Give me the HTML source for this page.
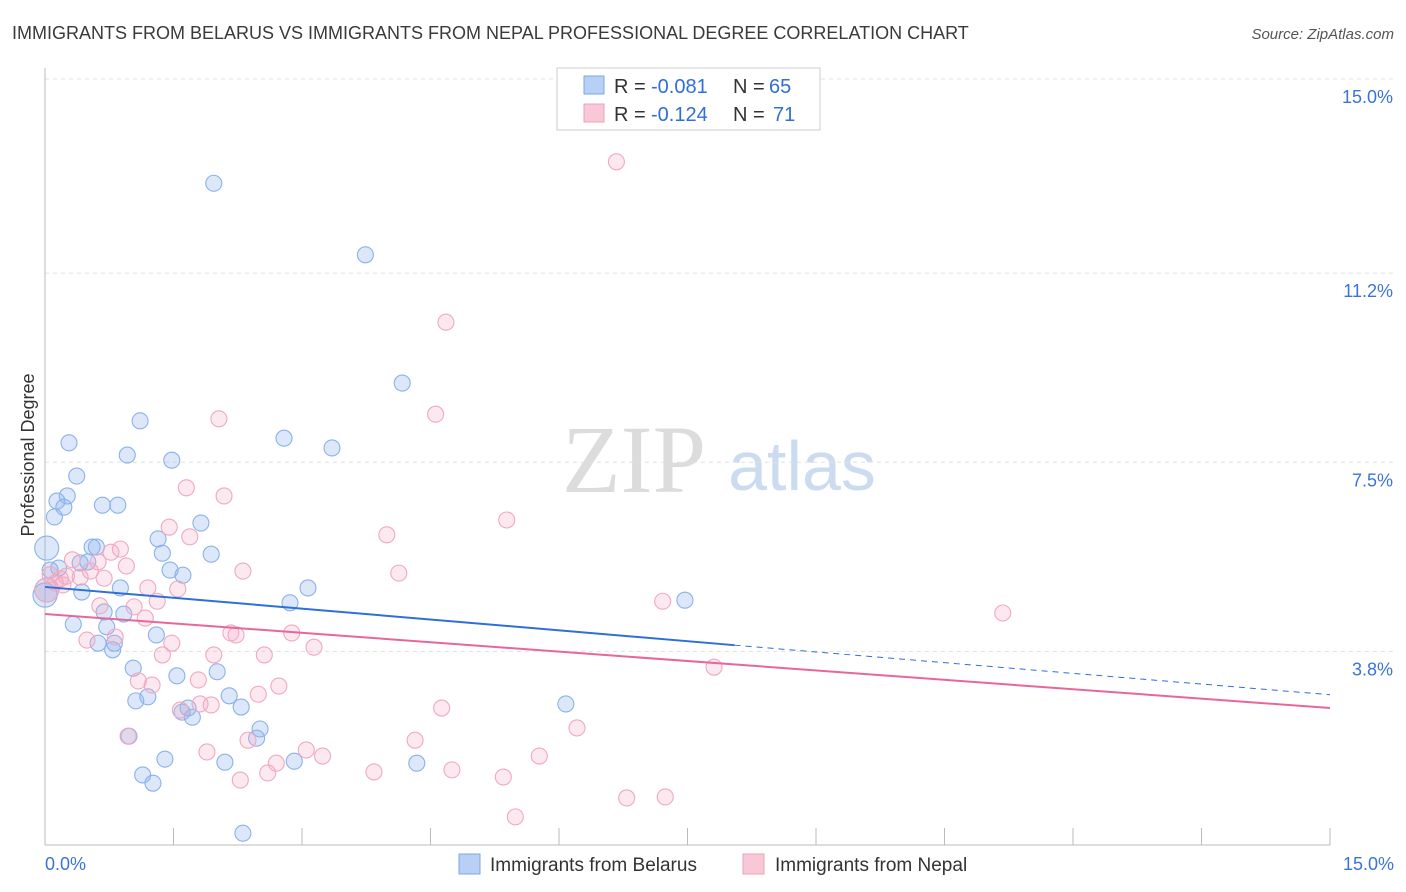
<!DOCTYPE html>
<html><head><meta charset="utf-8">
<style>
body{margin:0;background:#fff;font-family:"Liberation Sans",sans-serif;}
svg{display:block}
</style></head>
<body>
<svg id="chart" width="1406" height="892">
<text x="12" y="39" font-size="18" fill="#3a3a3a">IMMIGRANTS FROM BELARUS VS IMMIGRANTS FROM NEPAL PROFESSIONAL DEGREE CORRELATION CHART</text>
<text x="1394" y="39" font-size="15" fill="#555" font-style="italic" text-anchor="end">Source: ZipAtlas.com</text>
<text x="34" y="455" font-size="18" fill="#333" text-anchor="middle" transform="rotate(-90 34 455)">Professional Degree</text>
<g>
<text x="634" y="492" font-size="96" font-family="Liberation Serif,serif" fill="#dcdcdc" text-anchor="middle">ZIP</text>
<text x="802" y="490" font-size="70" fill="#ccdcf0" text-anchor="middle">atlas</text>
</g>
<g id="grid"></g>
<g id="axes"></g>
<g id="pts"></g>
<g id="trend"></g>
<g>
<rect x="557" y="68" width="263" height="62" fill="#fff" stroke="#ccc"/>
<rect x="584" y="76" width="20" height="18" fill="#b7d0f3" stroke="#7aa7e6"/>
<rect x="584" y="104" width="20" height="18" fill="#f8c8d7" stroke="#eea0b8"/>
<text x="614" y="93" font-size="20" fill="#333">R =</text>
<text x="651" y="93" font-size="20" fill="#2f6fd6">-0.081</text>
<text x="733" y="93" font-size="20" fill="#333">N =</text>
<text x="769" y="93" font-size="20" fill="#2f6fd6">65</text>
<text x="614" y="121" font-size="20" fill="#333">R =</text>
<text x="651" y="121" font-size="20" fill="#2f6fd6">-0.124</text>
<text x="733" y="121" font-size="20" fill="#333">N =</text>
<text x="773" y="121" font-size="20" fill="#2f6fd6">71</text>
</g>
<g>
<rect x="459" y="854" width="21" height="20" fill="#b7d0f3" stroke="#7aa7e6"/>
<text x="490" y="871" font-size="19" fill="#333">Immigrants from Belarus</text>
<rect x="743" y="854" width="21" height="20" fill="#f8c8d7" stroke="#eea0b8"/>
<text x="775" y="871" font-size="19" fill="#333">Immigrants from Nepal</text>
</g>
</svg>
<script>
const yTicks=[15.0,11.2,7.5,3.8];
const yTickLabels=["15.0%","11.2%","7.5%","3.8%"];
const xTickLabels=["0.0%","15.0%"];
const blueX=[1.97,3.74,4.17,1.11,0.28,2.79,3.35,0.96,1.48,0.37,0.14,0.26,0.22,0.67,0.85,0.11,1.82,1.32,0.55,0.6,0.02,1.37,1.94,0.41,1.46,1.61,0.16,0.5,0.88,0.43,3.07,2.86,7.47,0.92,0.69,0.33,0.72,1.30,0.62,0.81,0.79,1.03,2.01,1.54,1.20,1.06,2.15,1.67,1.60,1.72,2.29,6.08,2.51,0.98,2.47,1.40,2.10,2.91,4.34,1.14,1.26,2.31,0,0.06,0.02];
const blueY=[12.96,11.56,9.05,8.31,7.88,7.97,7.78,7.64,7.54,7.23,6.74,6.84,6.62,6.66,6.66,6.43,6.31,6.0,5.84,5.84,5.82,5.72,5.70,5.53,5.39,5.29,5.43,5.55,5.04,4.96,5.04,4.75,4.80,4.53,4.57,4.33,4.28,4.12,3.96,3.96,3.83,3.47,3.40,3.32,2.91,2.83,2.93,2.69,2.61,2.51,2.71,2.77,2.28,2.14,2.10,1.69,1.63,1.65,1.61,1.38,1.22,0.24,4.90,5.39,5.0];
const pinkX=[6.67,4.68,4.56,2.03,1.65,2.09,5.39,1.45,3.99,1.69,0.88,0.77,0.32,0.62,0.95,2.31,4.13,0.53,0.69,0.18,0.25,0.41,1.20,1.55,1.31,7.21,1.04,0.64,11.18,1.17,0.82,0.49,2.88,2.17,2.23,1.48,3.14,1.37,1.97,2.56,7.81,1.09,1.25,1.79,2.73,2.49,1.81,1.94,1.58,4.63,0.97,2.37,4.32,6.21,1.89,3.05,3.24,5.77,2.70,2.60,3.84,4.75,5.35,2.28,6.79,7.24,5.49,0.02,0.06,0.12,0.21];
const pinkY=[13.38,10.24,8.44,8.35,7.0,6.84,6.37,6.23,6.08,6.04,5.80,5.74,5.59,5.55,5.47,5.37,5.33,5.37,5.23,5.22,5.27,5.25,5.04,5.02,4.78,4.78,4.67,4.69,4.55,4.45,4.08,4.02,4.16,4.16,4.12,3.96,3.88,3.73,3.73,3.73,3.49,3.22,3.14,3.24,3.12,2.96,2.77,2.75,2.65,2.69,2.14,2.06,2.06,2.30,1.83,1.87,1.75,1.75,1.61,1.42,1.44,1.48,1.34,1.28,0.93,0.95,0.56,5.0,5.3,5.14,5.1];
const blueTrend=[5.06,3.92,8.05,2.95];
const pinkTrend=[4.53,2.69];
const X=v=>45+v/15*1285, Y=v=>79+(15-v)*51.1;
const NS="http://www.w3.org/2000/svg";
function mk(parent,tag,attrs){const e=document.createElementNS(NS,tag);for(const k in attrs)e.setAttribute(k,attrs[k]);document.getElementById(parent).appendChild(e);return e;}
yTicks.forEach((t,i)=>{
 const l=mk('grid','line',{x1:45,x2:1394,y1:Y(t),y2:Y(t),stroke:'#e0e0e0','stroke-dasharray':'4,4'});
 
 
 const tx=mk('grid','text',{x:1393,y:Y(t)+24,'font-size':18,fill:'#3b74d6','text-anchor':'end'});
 tx.textContent=yTickLabels[i];
 
 
});
const ya=mk('axes','line',{x1:45,x2:45,y1:68,y2:845,stroke:'#bbb'});


const xa=mk('axes','line',{x1:45,x2:1330,y1:845,y2:845,stroke:'#bbb'});


for(let i=0;i<=10;i++){
 const t=mk('axes','line',{x1:X(i*1.5),x2:X(i*1.5),y1:828,y2:845,stroke:'#bbb'});
 
 
}
[[0,'start',45],[15,'end',1394]].forEach((a,i)=>{
 const tx=mk('axes','text',{x:a[2],y:870,'font-size':18,fill:'#3b74d6','text-anchor':a[1]});
 tx.textContent=xTickLabels[i];
 
 
});
function pts(xs,ys,fill,stroke,name){
 xs.forEach((x,i)=>{
  const big=(x<0.05);
  const c=mk('pts','circle',{cx:X(x),cy:Y(ys[i]),r:big?12:8,fill:fill,stroke:stroke,'stroke-width':1.1});
  
  
 });
}
pts(blueX,blueY,'rgba(140,178,238,0.3)','#8ab2ea','belarus-point');
pts(pinkX,pinkY,'rgba(244,168,196,0.25)','#f0a8c0','nepal-point');
const b1=mk('trend','line',{x1:X(0),y1:Y(blueTrend[0]),x2:X(blueTrend[2]),y2:Y(blueTrend[1]),stroke:'#2f6fd6','stroke-width':2});


const b2=mk('trend','line',{x1:X(blueTrend[2]),y1:Y(blueTrend[1]),x2:X(15),y2:Y(blueTrend[3]),stroke:'#2f6fd6','stroke-width':1,'stroke-dasharray':'6,5'});


const p1=mk('trend','line',{x1:X(0),y1:Y(pinkTrend[0]),x2:X(15),y2:Y(pinkTrend[1]),stroke:'#e8679a','stroke-width':2});


</script>
</body></html>
